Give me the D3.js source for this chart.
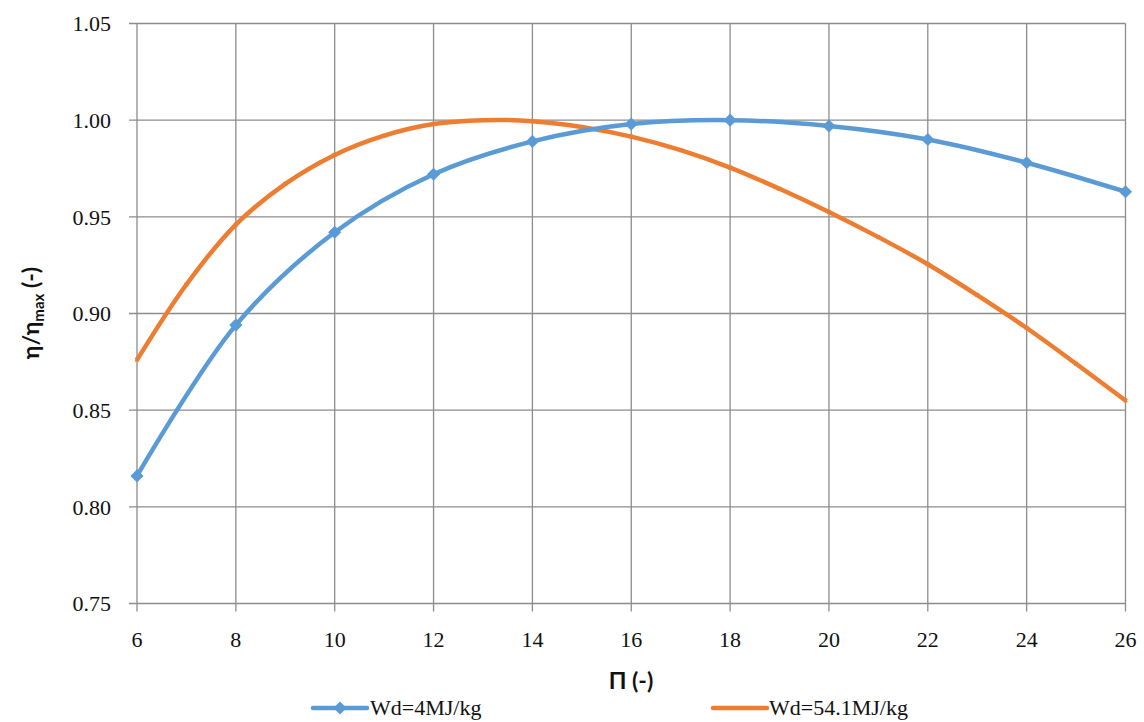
<!DOCTYPE html>
<html><head><meta charset="utf-8">
<script src="https://cdn.jsdelivr.net/npm/d3@7"></script>
<style>body{margin:0;background:#fff}</style>
</head><body>
<svg id="c" width="1144" height="722"></svg>
<script>
const xTicks = [6,8,10,12,14,16,18,20,22,24,26];
const yTicks = [0.75,0.80,0.85,0.90,0.95,1.00,1.05];
const blueX = [6,8,10,12,14,16,18,20,22,24,26];
const blueY = [0.816,0.894,0.942,0.972,0.989,0.998,1.000,0.997,0.990,0.978,0.963];
const orangeX = [6,7,8,9,10,11,12,13,14,15,16,17,18,19,20,21,22,23,24,25,26];
const orangeY = [0.876,0.915,0.946,0.967,0.982,0.992,0.998,1.000,0.9995,0.9965,0.9915,0.9845,0.9755,0.9645,0.9525,0.9395,0.9255,0.9095,0.8925,0.874,0.855];
const seriesNames = ["Wd=4MJ/kg","Wd=54.1MJ/kg"];
const colors = ["#5B9BD5","#ED7D31"];

const svg = d3.select("#c");
const x = d3.scaleLinear().domain([6,26]).range([137,1125.5]);
const y = d3.scaleLinear().domain([0.75,1.05]).range([603.5,23.5]);
const serif = "Liberation Serif";

// gridlines
svg.append("g").selectAll("line").data(xTicks).join("line")
  .attr("x1",d=>x(d)).attr("x2",d=>x(d)).attr("y1",y(1.05)).attr("y2",y(0.75)+8)
  .attr("stroke","#8c8c8c").attr("stroke-width",1.3);
svg.append("g").selectAll("line").data(yTicks).join("line")
  .attr("x1",x(6)-8).attr("x2",x(26)).attr("y1",d=>y(d)).attr("y2",d=>y(d))
  .attr("stroke","#8c8c8c").attr("stroke-width",1.3);

// tick labels
svg.append("g").selectAll("text").data(yTicks).join("text")
  .attr("x",111).attr("y",d=>y(d)).attr("dy","0.35em").attr("text-anchor","end")
  .style("font-family",serif).attr("font-size",22).attr("fill","#111")
  .text(d=>d3.format(".2f")(d));
svg.append("g").selectAll("text").data(xTicks).join("text")
  .attr("x",d=>x(d)).attr("y",647).attr("text-anchor","middle")
  .style("font-family",serif).attr("font-size",22).attr("fill","#111")
  .text(d=>d);

// axis titles
svg.append("text").attr("x",631).attr("y",689).attr("text-anchor","middle")
  .style("font-family","Lato").attr("font-weight","bold").attr("font-size",23).attr("fill","#111")
  .text("Π (-)");
const yt = svg.append("text").attr("transform","translate(39,313) rotate(-90)").attr("text-anchor","middle")
  .style("font-family","Lato").attr("font-weight","bold").attr("font-size",23).attr("fill","#111");
yt.append("tspan").text("η/η");
yt.append("tspan").attr("font-size",15).attr("dy",5).text("max");
yt.append("tspan").attr("dy",-5).text(" (-)");

// lines
const line = d3.line().x(d=>x(d[0])).y(d=>y(d[1])).curve(d3.curveCatmullRom.alpha(0.5));
const orangeData = orangeX.map((v,i)=>[v,orangeY[i]]);
const blueData = blueX.map((v,i)=>[v,blueY[i]]);
svg.append("g").selectAll("path").data(orangeData).join("path")
  .attr("d",d3.symbol(d3.symbolCross,14)()).attr("transform",d=>`translate(${x(d[0])},${y(d[1])}) rotate(45)`)
  .attr("fill",colors[1]);
svg.append("path").datum(orangeData).attr("d",line).attr("fill","none")
  .attr("stroke",colors[1]).attr("stroke-width",4.5).attr("stroke-linejoin","round");
svg.append("path").datum(blueData).attr("d",line).attr("fill","none")
  .attr("stroke",colors[0]).attr("stroke-width",4.5).attr("stroke-linejoin","round");
svg.append("g").selectAll("path").data(blueData).join("path")
  .attr("d",d3.symbol(d3.symbolDiamond2,110)()).attr("transform",d=>`translate(${x(d[0])},${y(d[1])})`)
  .attr("fill",colors[0]);

// legend
const leg = [{x0:313,tx:370},{x0:713,tx:769}];
leg.forEach((l,i)=>{
  svg.append("line").attr("x1",l.x0).attr("x2",l.x0+54).attr("y1",708).attr("y2",708)
    .attr("stroke",colors[i]).attr("stroke-width",4.5).attr("stroke-linecap","round");
  if(i===0) svg.append("path").attr("d",d3.symbol(d3.symbolDiamond2,110)())
    .attr("transform",`translate(${l.x0+27},708)`).attr("fill",colors[0]);
  svg.append("text").attr("x",l.tx).attr("y",715).style("font-family",serif).attr("font-size",22).attr("fill","#111")
    .text(seriesNames[i]);
});
</script>
</body></html>
